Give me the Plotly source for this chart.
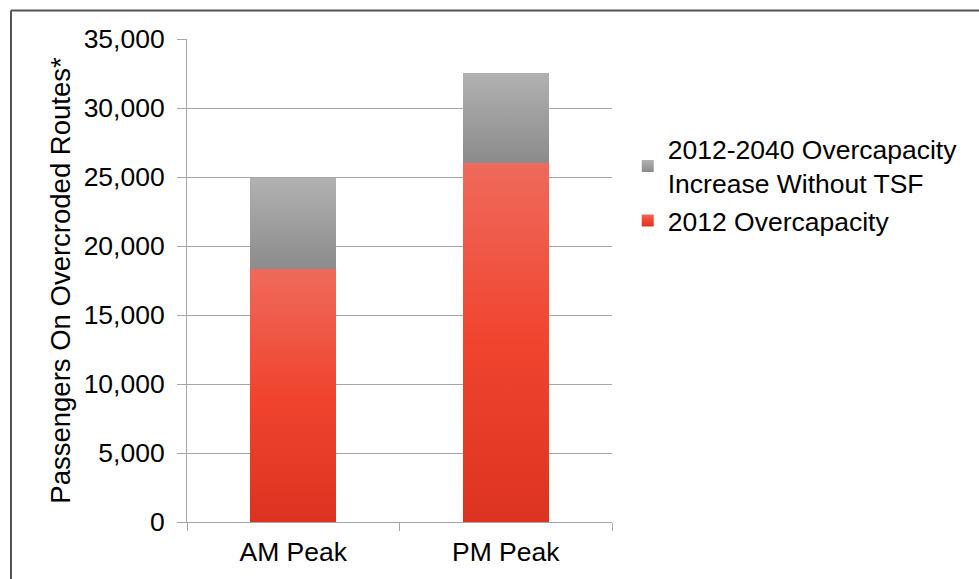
import plotly.graph_objects as go

categories = ["AM Peak", "PM Peak"]
overcap_2012 = [18300, 26000]
increase_2040 = [6600, 6550]
series_names = ["2012 Overcapacity", "2012-2040 Overcapacity<br>Increase Without TSF"]
y_tickvals = [0, 5000, 10000, 15000, 20000, 25000, 30000, 35000]
y_title = "Passengers On Overcroded Routes*"

RED = "rgb(240, 67, 48)"
GRAY = "rgb(158, 158, 158)"
FONT = "Liberation Sans, Arial, sans-serif"

W, H = 979, 579
ML, MR, MT, MB = 187, 367, 39, 57
PW, PH = W - ML - MR, H - MT - MB

fig = go.Figure()
fig.add_trace(go.Bar(x=categories, y=overcap_2012, name=series_names[0],
                     marker=dict(color=RED, line=dict(width=0))))
fig.add_trace(go.Bar(x=categories, y=increase_2040, name=series_names[1],
                     marker=dict(color=GRAY, line=dict(width=0))))

def px_to_paper_x(px):
    return (px - ML) / PW

def px_to_paper_y(py):
    return (H - MB - py) / PH

border_col = "#555555"
fig.add_shape(type="line", xref="paper", yref="paper",
              x0=px_to_paper_x(11), x1=px_to_paper_x(W + 5),
              y0=px_to_paper_y(10.5), y1=px_to_paper_y(10.5),
              line=dict(color=border_col, width=2))
fig.add_shape(type="line", xref="paper", yref="paper",
              x0=px_to_paper_x(11), x1=px_to_paper_x(11),
              y0=px_to_paper_y(10.5), y1=px_to_paper_y(H + 5),
              line=dict(color=border_col, width=2))

fig.update_layout(
    width=W, height=H,
    margin=dict(l=ML, r=MR, t=MT, b=MB, autoexpand=False),
    barmode="stack",
    bargap=0.595,
    paper_bgcolor="white",
    plot_bgcolor="white",
    font=dict(family=FONT, size=26, color="#000000"),
    showlegend=True,
    legend=dict(x=1.037, y=0.822, xanchor="left", yanchor="top",
                font=dict(size=26.5, family=FONT, color="#000000"),
                bgcolor="rgba(0,0,0,0)", traceorder="reversed",
                itemclick=False),
)
fig.update_xaxes(
    type="category", range=[-0.5, 1.5],
    showline=True, linecolor="#a6a6a6", linewidth=1,
    ticks="outside", tickson="boundaries", ticklen=8, tickcolor="#a6a6a6",
    ticklabelstandoff=6,
    showgrid=False, tickfont=dict(size=26.5, family=FONT),
)
fig.update_yaxes(
    range=[0, 35000], tickvals=y_tickvals, tickformat=",",
    showline=True, linecolor="#a6a6a6", linewidth=1,
    ticks="outside", ticklen=9, tickcolor="#a6a6a6",
    ticklabelstandoff=7,
    showgrid=True, gridcolor="#a6a6a6", gridwidth=1,
    zeroline=False,
    tickfont=dict(size=26.5, family=FONT),
    title=dict(text=y_title, font=dict(size=27.5, family=FONT), standoff=5),
)

post = """
document.body.style.margin = '0';
var gd = document.getElementById('{plot_id}');
function applyGrad(){
  var svg = gd.querySelector('svg.main-svg');
  if(!svg) return;
  var ns = 'http://www.w3.org/2000/svg';
  if(!document.getElementById('gradRed')){
    var defs = svg.querySelector('defs');
    if(!defs){ defs = document.createElementNS(ns,'defs'); svg.insertBefore(defs, svg.firstChild); }
    function mk(id, stops){
      var g = document.createElementNS(ns,'linearGradient');
      g.setAttribute('id', id);
      g.setAttribute('x1','0'); g.setAttribute('y1','0');
      g.setAttribute('x2','0'); g.setAttribute('y2','1');
      stops.forEach(function(s){
        var st = document.createElementNS(ns,'stop');
        st.setAttribute('offset', s[0]); st.setAttribute('stop-color', s[1]);
        g.appendChild(st);
      });
      defs.appendChild(g);
    }
    mk('gradRed', [['0','#ee6a5c'],['0.5','#f0442f'],['1','#dc3320']]);
    mk('gradGray', [['0','#b1b1b1'],['1','#8b8b8b']]);
  }
  var paths = gd.querySelectorAll('.barlayer path, .legendpoints path');
  paths.forEach(function(p){
    var f = p.style.fill;
    if(f === '""" + RED + """') p.style.fill = 'url(#gradRed)';
    else if(f === '""" + GRAY + """') p.style.fill = 'url(#gradGray)';
  });
}
applyGrad();
gd.on && gd.on('plotly_afterplot', applyGrad);
"""

fig.write_html("out.html", post_script=post, config={"displayModeBar": False})
